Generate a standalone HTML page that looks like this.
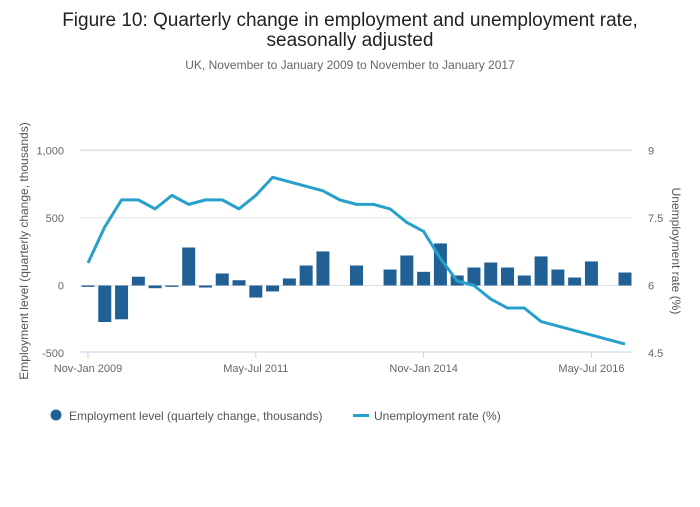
<!DOCTYPE html>
<html><head><meta charset="utf-8"><style>
body{margin:0;background:#fff;width:700px;height:502px;overflow:hidden;font-family:"Liberation Sans",sans-serif}
</style></head><body>
<svg id="chart" width="700" height="502" xmlns="http://www.w3.org/2000/svg" font-family="Liberation Sans, sans-serif">
<text x="350" y="26" text-anchor="middle" font-size="19" fill="#222">Figure 10: Quarterly change in employment and unemployment rate,</text>
<text x="350" y="46" text-anchor="middle" font-size="19" fill="#222">seasonally adjusted</text>
<text x="350" y="69" text-anchor="middle" font-size="12" fill="#666">UK, November to January 2009 to November to January 2017</text>
<g id="grid"></g><g id="bars"></g><g id="line"></g><g id="axes"></g>
<text transform="translate(28,251) rotate(-90)" text-anchor="middle" font-size="12" fill="#555">Employment level (quarterly change, thousands)</text>
<text transform="translate(672,251) rotate(90)" text-anchor="middle" font-size="12" fill="#555">Unemployment rate (%)</text>
<g>
<circle cx="56" cy="415" r="5.5" fill="#206095"/>
<text x="69" y="420" font-size="12" fill="#555">Employment level (quartely change, thousands)</text>
<rect x="353" y="414" width="16" height="3" fill="#27a0cc"/>
<text x="374" y="420" font-size="12" fill="#555">Unemployment rate (%)</text>
</g>
</svg>
<script>
const employment=[-10,-270,-250,65,-20,-10,281,-15,89,39,-89,-44,52,148,252,0,148,0,118,222,101,311,74,133,170,133,74,215,118,59,178,0,96];
const unemployment=[6.5,7.3,7.9,7.9,7.7,8.0,7.8,7.9,7.9,7.7,8.0,8.4,8.3,8.2,8.1,7.9,7.8,7.8,7.7,7.4,7.2,6.6,6.1,6.0,5.7,5.5,5.5,5.2,5.1,5.0,4.9,4.8,4.7];
const leftTicks=[-500,0,500,1000];
const leftTickLabels=["-500","0","500","1,000"];
const rightTickLabels=["4.5","6","7.5","9"];
const xTickIdx=[0,10,20,30];
const xTickLabels=["Nov-Jan 2009","May-Jul 2011","Nov-Jan 2014","May-Jul 2016"];
const NS="http://www.w3.org/2000/svg";
const x=i=>88+i*(625-88)/32;
const yL=v=>285.5-v*0.1352;
const yR=v=>285.5-(v-6)*(67.6/1.5);
function mk(t,a,p){const e=document.createElementNS(NS,t);for(const k in a)e.setAttribute(k,a[k]);document.getElementById(p).appendChild(e);return e;}
leftTicks.forEach((v,i)=>{
 if(v!==-500){const g=mk('line',{x1:80,x2:632,y1:yL(v),y2:yL(v),stroke:'#e2e2e2','stroke-width':v===1000?2:1},'grid');
 
 }
 const t=mk('text',{x:64,y:yL(v)+4,'text-anchor':'end','font-size':11,fill:'#666'},'axes');t.textContent=leftTickLabels[i];
 
 
 const r=mk('text',{x:648,y:yL(v)+4,'font-size':11,fill:'#666'},'axes');r.textContent=rightTickLabels[i];
 
 
});
const ax=mk('line',{x1:80,x2:632,y1:352,y2:352,stroke:'#c5d4e8','stroke-width':1},'axes');


xTickIdx.forEach((ix,i)=>{
 const l=mk('line',{x1:x(ix),x2:x(ix),y1:352,y2:358,stroke:'#c5d4e8'},'axes');
 
 
 const t=mk('text',{x:x(ix),y:372,'text-anchor':'middle','font-size':11,fill:'#666'},'axes');t.textContent=xTickLabels[i];
 
 
});
employment.forEach((v,i)=>{
 if(v===0)return;
 const b=mk('rect',{x:x(i)-6.5,width:13,y:Math.min(yL(v),yL(0)),height:Math.max(1,Math.abs(yL(v)-yL(0))),fill:'#206095'},'bars');
 
 
});
const p=mk('polyline',{points:unemployment.map((v,i)=>x(i)+','+yR(v)).join(' '),fill:'none',stroke:'#27a0cc','stroke-width':3,'stroke-linejoin':'round'},'line');


</script>
</body></html>
